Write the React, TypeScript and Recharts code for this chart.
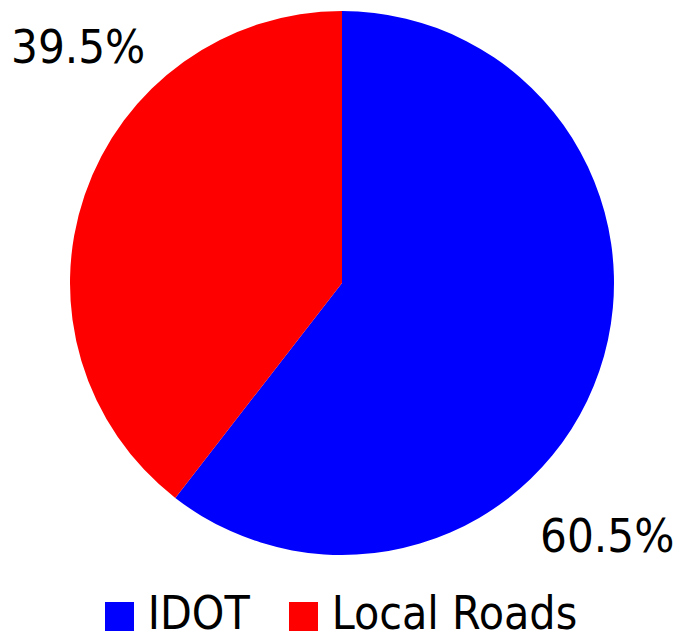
import { PieChart, Pie, Cell, Legend } from "recharts";

const categories = ["IDOT", "Local Roads"];
const shares = [60.5, 39.5];
const colors = ["#0000FF", "#FF0000"];

const data = categories.map((name, i) => ({ name, value: shares[i] }));

const FONT = "'Liberation Sans Narrow', 'DejaVu Sans Condensed', sans-serif";
const RAD = Math.PI / 180;

function renderLabel(props: any) {
  const { cx, cy, outerRadius, midAngle, percent } = props;
  const right = Math.cos(-midAngle * RAD) > 0;
  const down = Math.sin(-midAngle * RAD) > 0;
  const x = cx + (right ? 0.975 : -0.97) * outerRadius;
  const y = cy + (down ? 0.93 : -0.87) * outerRadius;
  return (
    <text
      x={x}
      y={y}
      fill="#000"
      textAnchor="middle"
      dominantBaseline="central"
      fontFamily={FONT}
      fontSize={47}
    >
      {(percent * 100).toFixed(1) + "%"}
    </text>
  );
}

function renderLegend() {
  return (
    <div
      style={{
        display: "flex",
        justifyContent: "center",
        alignItems: "center",
        fontFamily: FONT,
        fontSize: 46,
        lineHeight: "52px",
        height: 52,
      }}
    >
      {categories.map((c, i) => (
        <div
          key={c}
          style={{ display: "flex", alignItems: "center", marginRight: i === 0 ? 39 : 0 }}
        >
          <div
            style={{ width: 29, height: 29, background: colors[i], marginRight: 14, marginTop: 6 }}
          />
          <span>{c}</span>
        </div>
      ))}
    </div>
  );
}

export default function App() {
  return (
    <div style={{ position: "absolute", left: 0, top: 0, background: "#fff" }}>
      <PieChart width={682} height={639} margin={{ top: 0, right: 0, bottom: 0, left: 0 }}>
        <Pie
          data={data}
          dataKey="value"
          nameKey="name"
          cx={342}
          cy={283}
          outerRadius={272}
          startAngle={90}
          endAngle={-270}
          stroke="none"
          label={renderLabel}
          labelLine={false}
          isAnimationActive={false}
        >
          {data.map((d, i) => (
            <Cell key={d.name} fill={colors[i]} />
          ))}
        </Pie>
        <Legend content={renderLegend} wrapperStyle={{ top: 587, left: 0, width: 682 }} />
      </PieChart>
    </div>
  );
}
